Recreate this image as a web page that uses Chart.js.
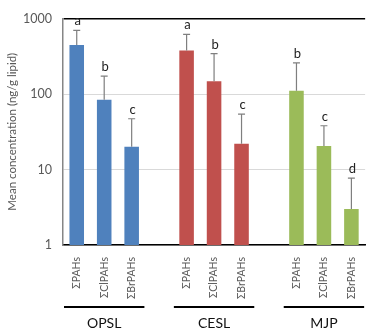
<!DOCTYPE html>
<html>
<head>
<meta charset="utf-8">
<script src="https://cdn.jsdelivr.net/npm/chart.js@4"></script>
<style>
  html, body { margin:0; padding:0; background:#fff; overflow:hidden; }
  #wrap { width:376px; height:331px; position:relative; }
</style>
</head>
<body>
<div id="wrap"><canvas id="chart"></canvas></div>
<script>
// ── Data ──
const categories = ['ΣPAHs','ΣClPAHs','ΣBrPAHs','','ΣPAHs','ΣClPAHs','ΣBrPAHs','','ΣPAHs','ΣClPAHs','ΣBrPAHs'];
const means      = [447, 84, 20, null, 378, 147, 22, null, 110, 20.5, 3.0];
const errTops    = [695, 172, 47, null, 618, 343, 54, null, 259, 38, 7.7];
const letters    = ['a','b','c','','a','b','c','','b','c','d'];
const groups     = ['OPSL','CESL','MJP'];
const groupIdx   = [[0,2],[4,6],[8,10]];
const yTicks     = [1, 10, 100, 1000];

const BLUE = '#4f81bd', RED = '#c0504d', GREEN = '#9bbb59';
const barColors = [BLUE,BLUE,BLUE,null,RED,RED,RED,null,GREEN,GREEN,GREEN];
const FONT = 'Lato, "Open Sans", sans-serif';

// ── Error bars, letters, group lines ──
const extras = {
  id:'extras',
  afterDatasetsDraw(chart) {
    const { ctx, scales:{ x, y } } = chart;
    const meta = chart.getDatasetMeta(0);
    ctx.save();
    meta.data.forEach((bar, i) => {
      if (means[i] == null) return;
      const top = y.getPixelForValue(errTops[i]);
      const base = y.getPixelForValue(means[i]);
      ctx.strokeStyle = '#7f7f7f'; ctx.lineWidth = 1.2;
      ctx.beginPath();
      ctx.moveTo(bar.x, base); ctx.lineTo(bar.x, top);
      ctx.moveTo(bar.x - 3.5, top); ctx.lineTo(bar.x + 3.5, top);
      ctx.stroke();
      ctx.fillStyle = '#222';
      ctx.font = '13px ' + FONT;
      ctx.textAlign = 'center'; ctx.textBaseline = 'alphabetic';
      ctx.fillText(letters[i], bar.x + 1, top - 5);
    });
    const slot = x.getPixelForValue(1) - x.getPixelForValue(0);
    groups.forEach((g, k) => {
      const [a, b] = groupIdx[k];
      const x0 = x.getPixelForValue(a) - slot / 2;
      const x1 = x.getPixelForValue(b) + slot / 2;
      ctx.strokeStyle = '#000'; ctx.lineWidth = 2;
      ctx.beginPath(); ctx.moveTo(x0 + 1, 307); ctx.lineTo(x1 - 1, 307); ctx.stroke();
      ctx.fillStyle = '#111';
      ctx.font = '14px ' + FONT;
      ctx.textAlign = 'center'; ctx.textBaseline = 'middle';
      ctx.fillText(g, (x0 + x1) / 2, 323);
    });
    ctx.restore();
  }
};

new Chart(document.getElementById('chart'), {
  type:'bar',
  data:{ labels:categories, datasets:[{
    data:means, backgroundColor:barColors,
    barPercentage:0.53, categoryPercentage:1, skipNull:false
  }]},
  options:{
    responsive:true, maintainAspectRatio:false, animation:false,
    layout:{ padding:{ top:11, left:0, right:0, bottom:0 } },
    plugins:{ legend:{display:false}, tooltip:{enabled:false} },
    scales:{
      x:{
        grid:{ display:false, drawTicks:false },
        border:{ display:true, color:'#000', width:1.5 },
        ticks:{ autoSkip:false, maxRotation:90, minRotation:90, padding:12,
                color:'#595959', font:{ size:10.5, family:FONT } },
        afterFit(s) { s.height = 86; }
      },
      y:{
        type:'logarithmic', min:1, max:1000,
        afterBuildTicks(s) { s.ticks = yTicks.map(v => ({ value:v })); },
        grid:{ drawTicks:false, color:c => c.tick && c.tick.value === 1000 ? '#000' : '#d9d9d9', lineWidth:c => c.tick && c.tick.value === 1000 ? 1.5 : 1 },
        border:{ display:true, color:'#868686', width:1.5 },
        ticks:{ padding:11, color:'#595959', font:{ size:12.5, family:FONT },
                callback:v => String(v) },
        title:{ display:true, text:'Mean concentration (ng/g lipid)', color:'#595959',
                font:{ size:11.5, family:FONT }, padding:{ top:5, bottom:0 } },
        afterFit(s) { s.width = 63; }
      }
    }
  },
  plugins:[extras]
});
</script>
</body>
</html>
